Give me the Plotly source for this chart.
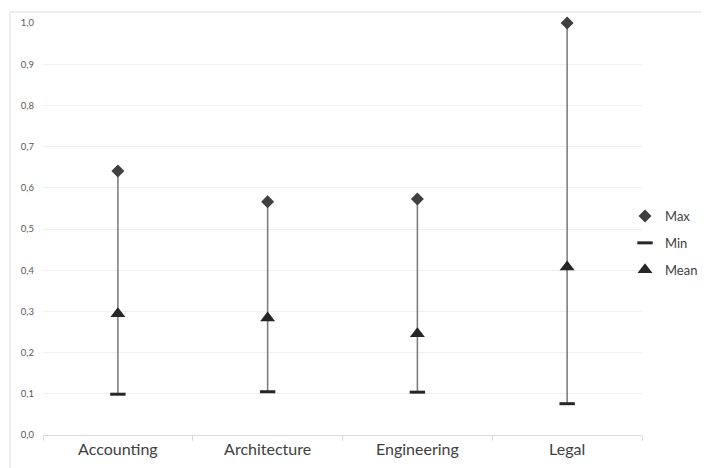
import plotly.graph_objects as go

categories = ["Accounting", "Architecture", "Engineering", "Legal"]
max_vals = [0.641, 0.566, 0.573, 1.0]
min_vals = [0.099, 0.105, 0.104, 0.076]
mean_vals = [0.294, 0.284, 0.246, 0.408]
y_ticks = [0.0, 0.1, 0.2, 0.3, 0.4, 0.5, 0.6, 0.7, 0.8, 0.9, 1.0]

span = [mx - mn for mx, mn in zip(max_vals, min_vals)]

fig = go.Figure()

# high-low line from min to max
fig.add_trace(go.Scatter(
    x=categories, y=min_vals, mode="markers",
    marker=dict(size=1, color="rgba(0,0,0,0)"),
    error_y=dict(type="data", array=span, arrayminus=[0] * len(span),
                 symmetric=False, width=0, thickness=1.6, color="#7f7f7f"),
    showlegend=False, hoverinfo="skip", cliponaxis=False,
))

fig.add_trace(go.Scatter(
    x=categories, y=max_vals, mode="markers", name="Max", legendgroup="a",
    marker=dict(symbol="diamond", size=10, color="#404040"),
    cliponaxis=False,
))
fig.add_trace(go.Scatter(
    x=categories, y=min_vals, mode="markers", name="Min", legendgroup="b",
    marker=dict(symbol="line-ew", size=11, color="#262626",
                line=dict(width=3, color="#262626")),
    cliponaxis=False,
))
fig.add_trace(go.Scatter(
    x=categories, y=mean_vals, mode="markers", name="Mean", legendgroup="c",
    marker=dict(symbol="triangle-up", size=13, color="#262626"),
    cliponaxis=False,
))

# page body has an 8px margin, so the figure is 8px smaller and shifted
W, H = 701, 460
ml, mr, mt, mb = 35, 0, 15, 33
plot_w = 599
paper_w = W - ml - mr
paper_h = H - mt - mb

fig.update_layout(
    width=W, height=H,
    margin=dict(l=ml, r=mr, t=mt, b=mb),
    paper_bgcolor="white", plot_bgcolor="white",
    separators=",.",
    font=dict(family="Lato, Open Sans, sans-serif", color="#404040"),
    legend=dict(x=(W - 6 - ml) / paper_w, y=(H - mb - 235) / paper_h,
                xanchor="right", yanchor="middle",
                font=dict(size=13, color="#404040"),
                itemwidth=30, traceorder="grouped", tracegroupgap=7,
                bgcolor="rgba(0,0,0,0)"),
    xaxis=dict(
        type="category", range=[-0.5, 3.5], domain=[0, plot_w / paper_w],
        tickson="boundaries", ticks="outside", ticklen=5, tickcolor="#d9d9d9",
        showline=True, linecolor="#d9d9d9", linewidth=1,
        showgrid=False,
        tickfont=dict(size=16, color="#404040"),
    ),
    yaxis=dict(
        range=[0, 1.0], tickvals=y_ticks, tickformat=".1f",
        showgrid=True, gridcolor="#efefef", gridwidth=1,
        zeroline=False, ticks="", ticklabelstandoff=8,
        tickfont=dict(size=9.5, color="#595959"),
    ),
    shapes=[
        dict(type="line", xref="paper", yref="paper",
             x0=(2 - ml) / paper_w, x1=1.1, y0=(H - mb - 4) / paper_h, y1=(H - mb - 4) / paper_h,
             line=dict(color="#d9d9d9", width=1)),
        dict(type="line", xref="paper", yref="paper",
             x0=(2 - ml) / paper_w, x1=(2 - ml) / paper_w, y0=(H - mb - 4) / paper_h, y1=-0.2,
             line=dict(color="#d9d9d9", width=1)),
    ],
)

fig.write_html("out.html")
